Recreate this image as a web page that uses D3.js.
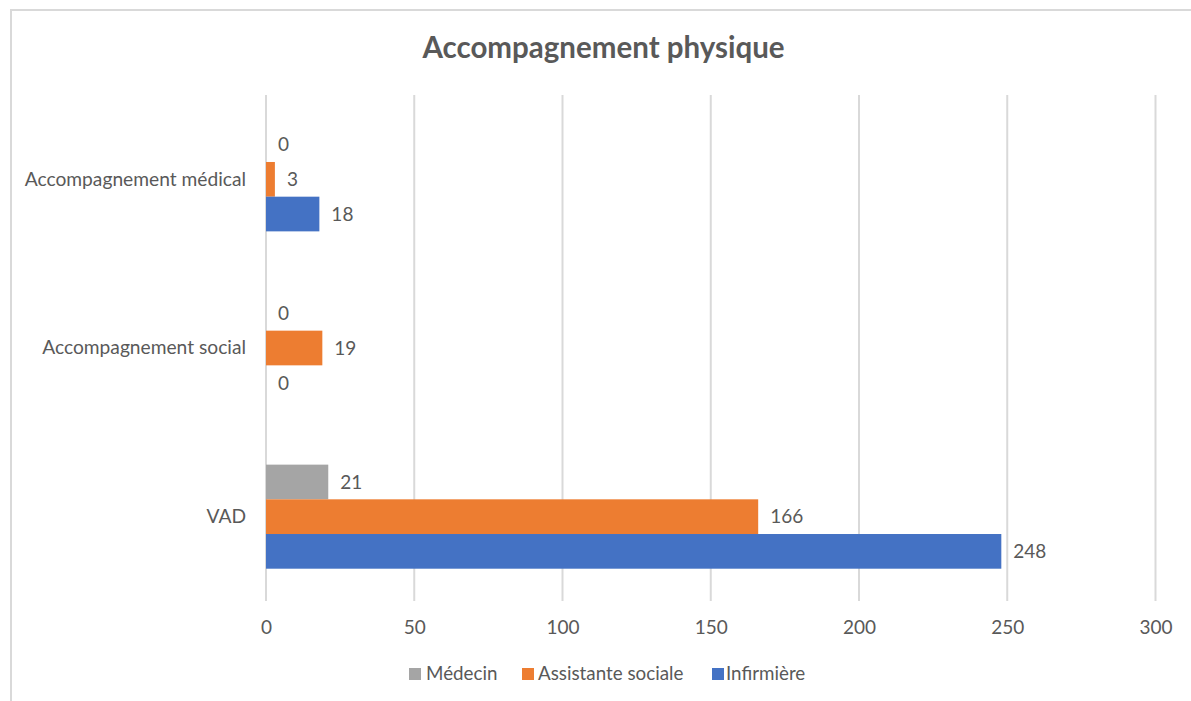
<!DOCTYPE html>
<html><head><meta charset="utf-8">
<script src="https://cdn.jsdelivr.net/npm/d3@7"></script>
<style>
html,body{margin:0;padding:0;background:#fff;overflow:hidden;}
svg{display:block;}
text{font-family:Lato, "Open Sans", sans-serif;fill:#595959;}
</style></head>
<body>
<script>
const categories = ["Accompagnement médical", "Accompagnement social", "VAD"];
const seriesNames = ["Médecin", "Assistante sociale", "Infirmière"];
const medecin = [0, 0, 21];
const assistanteSociale = [3, 19, 166];
const infirmiere = [18, 0, 248];
const xTicks = [0, 50, 100, 150, 200, 250, 300];
const colors = ["#a5a5a5", "#ed7d31", "#4472c4"];
const chartTitle = "Accompagnement physique";

const series = [medecin, assistanteSociale, infirmiere];
const W = 1191, H = 701;
const svg = d3.select("body").append("svg").attr("width", W).attr("height", H);

// chart border
svg.append("rect").attr("x", 11).attr("y", 10).attr("width", W).attr("height", H)
  .attr("fill", "none").attr("stroke", "#d9d9d9").attr("stroke-width", 2);

const pLeft = 266, pRight = 1155.5, pTop = 95, pBottom = 601;
const x = d3.scaleLinear().domain([0, 300]).range([pLeft, pRight]);
const y = d3.scaleBand().domain(categories).range([pTop, pBottom]).paddingInner(0.383).paddingOuter(0.1915);
const ySub = d3.scaleBand().domain(seriesNames).range([0, y.bandwidth()]);

// title
svg.append("text").attr("x", 603.5).attr("y", 58).attr("text-anchor", "middle")
  .style("font-size", "29.5px").style("font-weight", "bold").text(chartTitle);

// gridlines
svg.append("g").selectAll("line").data(xTicks).join("line")
  .attr("x1", d => x(d)).attr("x2", d => x(d)).attr("y1", pTop).attr("y2", pBottom)
  .attr("stroke", "#d9d9d9").attr("stroke-width", 2);

// x axis labels
const xAxis = d3.axisBottom(x).tickValues(xTicks).tickSize(0).tickPadding(0);
const gx = svg.append("g").attr("transform", `translate(0,${pBottom})`).call(xAxis);
gx.select(".domain").remove();
gx.attr("font-family", null).attr("font-size", null);
gx.selectAll("text").attr("dy", null).attr("y", 28.5).attr("dominant-baseline", "middle")
  .style("font-size", "19px").attr("fill", "#595959");

// y axis labels
const yAxis = d3.axisLeft(y).tickSize(0).tickPadding(0);
const gy = svg.append("g").attr("transform", `translate(246,0)`).call(yAxis);
gy.select(".domain").remove();
gy.attr("font-family", null).attr("font-size", null);
gy.selectAll("text").attr("x", 0).attr("dy", null).attr("y", 1.5).attr("dominant-baseline", "middle")
  .style("font-size", "19.2px").attr("fill", "#595959");

// bars
const data = [];
categories.forEach((c, i) => seriesNames.forEach((s, j) => data.push({c, s, j, v: series[j][i]})));
const g = svg.append("g");
g.selectAll("rect").data(data).join("rect")
  .attr("x", x(0)).attr("y", d => y(d.c) + ySub(d.s))
  .attr("width", d => x(d.v) - x(0)).attr("height", ySub.bandwidth())
  .attr("fill", d => colors[d.j]);
g.selectAll("text").data(data).join("text")
  .attr("x", d => x(d.v) + 12).attr("y", d => y(d.c) + ySub(d.s) + ySub.bandwidth() / 2 + 2)
  .attr("dominant-baseline", "middle").style("font-size", "19px").text(d => d.v);

// legend
const legendItems = [
  {name: seriesNames[0], sx: 409, tx: 426},
  {name: seriesNames[1], sx: 522, tx: 538},
  {name: seriesNames[2], sx: 712, tx: 726}
];
const lg = svg.append("g");
legendItems.forEach((d, i) => {
  lg.append("rect").attr("x", d.sx).attr("y", 668).attr("width", 12).attr("height", 12).attr("fill", colors[i]);
  lg.append("text").attr("x", d.tx).attr("y", 675).attr("dominant-baseline", "middle")
    .style("font-size", "18.8px").text(d.name);
});
</script>
</body></html>
